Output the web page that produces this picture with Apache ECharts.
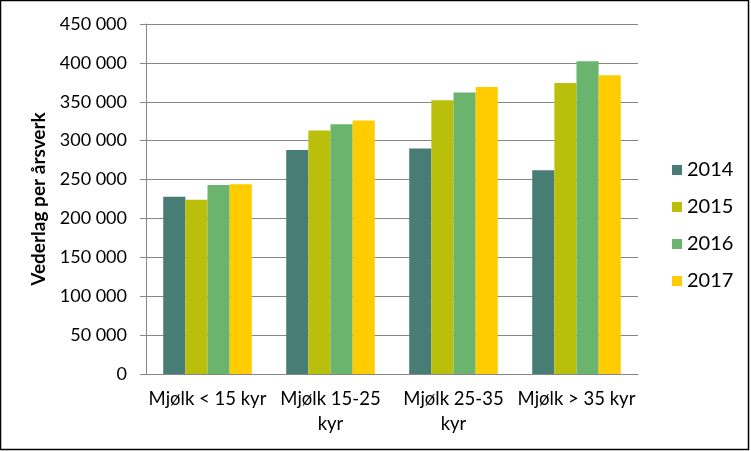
<!DOCTYPE html>
<html>
<head>
<meta charset="utf-8">
<script src="https://cdn.jsdelivr.net/npm/echarts@6/dist/echarts.min.js"></script>
<style>
  html, body { margin: 0; padding: 0; background: #fff; }
  #chart { width: 751px; height: 451px; }
</style>
</head>
<body>
<div id="chart"></div>
<script>
const categories = ['Mjølk < 15 kyr', 'Mjølk 15-25\nkyr', 'Mjølk 25-35\nkyr', 'Mjølk > 35 kyr']
const years = ['2014', '2015', '2016', '2017']
const v2014 = [228000, 288000, 290000, 262000]
const v2015 = [224000, 313000, 352000, 374000]
const v2016 = [243000, 321000, 362000, 402000]
const v2017 = [244000, 326000, 369000, 384000]
const colors = ['#477D74', '#B9BF0A', '#6AB46E', '#FFCC00']

const font = 'Lato, "Open Sans", sans-serif'
const chart = echarts.init(document.getElementById('chart'))

const fmt = (v) => String(v).replace(/\B(?=(\d{3})+(?!\d))/g, ' ')

chart.setOption({
  animation: false,
  textStyle: { fontFamily: font },
  graphic: [
    {
      type: 'rect',
      shape: { x: 0.5, y: 0.5, width: 748, height: 449 },
      style: { fill: 'none', stroke: '#000', lineWidth: 1.5 },
    },
  ],
  grid: { left: 146, right: 113, top: 24, bottom: 77 },
  legend: {
    orient: 'vertical',
    left: 667,
    top: 155,
    itemWidth: 10,
    itemHeight: 10,
    itemGap: 17,
    icon: 'rect',
    textStyle: { fontSize: 20, lineHeight: 20, color: '#000', fontFamily: font },
    data: years,
  },
  xAxis: {
    type: 'category',
    data: categories,
    axisLine: { lineStyle: { color: '#868686' } },
    axisTick: { length: 5, lineStyle: { color: '#868686' } },
    axisLabel: { fontSize: 18.5, lineHeight: 25, color: '#000', margin: 13, interval: 0 },
  },
  yAxis: {
    type: 'value',
    min: 0,
    max: 450000,
    interval: 50000,
    name: 'Vederlag per årsverk',
    nameLocation: 'middle',
    nameRotate: 90,
    nameGap: 95,
    nameTextStyle: { fontSize: 19, fontWeight: 'bold', color: '#000' },
    axisLine: { show: true, lineStyle: { color: '#868686' } },
    axisTick: { show: true, inside: false, length: 6, lineStyle: { color: '#868686' } },
    splitLine: { lineStyle: { color: '#868686', width: 1 } },
    axisLabel: { fontSize: 18, color: '#000', margin: 19, formatter: fmt },
  },
  series: [v2014, v2015, v2016, v2017].map((d, i) => ({
    name: years[i],
    type: 'bar',
    data: d,
    barGap: 0,
    barCategoryGap: '28%',
    itemStyle: { color: colors[i] },
  })),
})
</script>
</body>
</html>
